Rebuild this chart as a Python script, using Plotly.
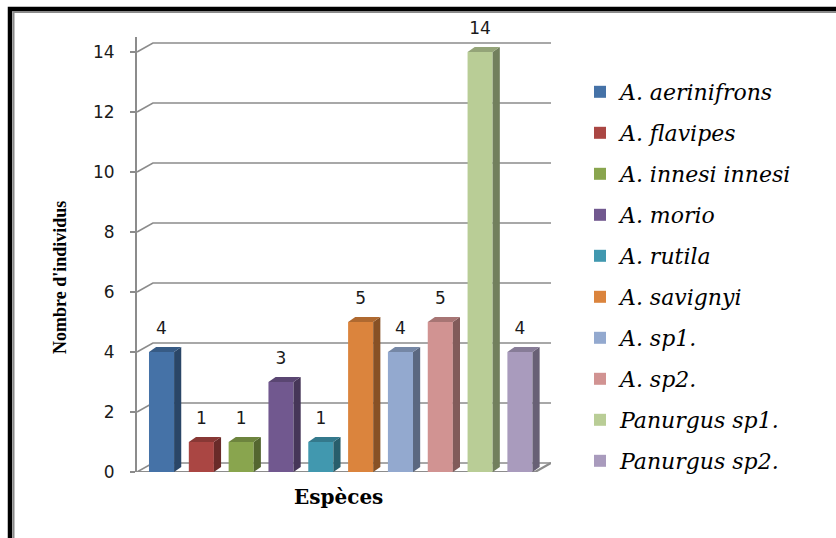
import plotly.graph_objects as go

# Species counts
species = ["A. aerinifrons", "A. flavipes", "A. innesi innesi", "A. morio", "A. rutila",
           "A. savignyi", "A. sp1.", "A. sp2.", "Panurgus sp1.", "Panurgus sp2."]
counts = [4, 1, 1, 3, 1, 5, 4, 5, 14, 4]
front_colors = ["#4572A7", "#AA4643", "#89A54E", "#71588F", "#4198AF",
                "#DB843D", "#93A9CF", "#D19392", "#B9CD96", "#A99BBD"]
y_ticks = [0, 2, 4, 6, 8, 10, 12, 14]


def shade(hex_color, k):
    h = hex_color.lstrip("#")
    r, g, b = (int(h[i:i + 2], 16) for i in (0, 2, 4))
    return "rgb({},{},{})".format(int(r * k), int(g * k), int(b * k))


# pseudo-3D geometry (data units)
bar_w = 0.63          # width of the front face
depth_dx, depth_dy = 0.18, 0.17   # bar depth
wall_dx, wall_dy = 0.40, 0.30     # offset of the back wall
x_lo, x_hi = -0.616, 9.38         # front edge of the floor
y_max = 14.5
label_lift = 0.45

# plot-area geometry in pixels, used to place paper-referenced items
W, H = 836, 538
m_l, m_r, m_t, m_b = 137, 285, 37, 66
plot_w, plot_h = W - m_l - m_r, H - m_t - m_b


def px(xp):
    return (xp - m_l) / plot_w


def py(yp):
    return (H - m_b - yp) / plot_h


fig = go.Figure()

xs = list(range(len(species)))
for i, (name, v, col) in enumerate(zip(species, counts, front_colors)):
    xl, xr = i - bar_w / 2, i + bar_w / 2
    # front face (legend entry)
    fig.add_trace(go.Bar(
        x=[i], y=[v], width=bar_w, name=name, marker_color=col,
        marker_line_width=0, legendgroup=name, hoverinfo="skip"))
    # right side face
    fig.add_trace(go.Scatter(
        x=[xr, xr + depth_dx, xr + depth_dx, xr, xr],
        y=[0, depth_dy, v + depth_dy, v, 0],
        fill="toself", fillcolor=shade(col, 0.62), mode="lines",
        line=dict(width=0, color=shade(col, 0.62)),
        showlegend=False, legendgroup=name, hoverinfo="skip"))
    # top face
    fig.add_trace(go.Scatter(
        x=[xl, xr, xr + depth_dx, xl + depth_dx, xl],
        y=[v, v, v + depth_dy, v + depth_dy, v],
        fill="toself", fillcolor=shade(col, 0.8), mode="lines",
        line=dict(width=0, color=shade(col, 0.8)),
        showlegend=False, legendgroup=name, hoverinfo="skip"))

# value labels
fig.add_trace(go.Scatter(
    x=xs, y=[v + label_lift for v in counts], mode="text",
    text=[str(v) for v in counts], textposition="top center",
    textfont=dict(family="DejaVu Sans", size=17, color="#1a1a1a"),
    cliponaxis=False, showlegend=False, hoverinfo="skip"))

grid_col = "#8C8C8C"
shapes = []
# back-wall gridlines with their perspective stubs
for t in y_ticks:
    shapes.append(dict(
        type="path", xref="x", yref="y", layer="below",
        path="M{},{} L{},{} L{},{}".format(x_lo, t, x_lo + wall_dx, t + wall_dy,
                                           x_hi + wall_dx, t + wall_dy),
        line=dict(color=grid_col, width=1.6)))
# floor front edge
shapes.append(dict(
    type="path", xref="x", yref="y", layer="below",
    path="M{},0 L{},0 L{},{}".format(x_lo, x_hi, x_hi + wall_dx, wall_dy),
    line=dict(color=grid_col, width=2.2)))

# outer frame
shapes.append(dict(type="rect", xref="paper", yref="paper",
                   x0=px(10), x1=px(860), y0=py(560), y1=py(9),
                   line=dict(color="black", width=4.5)))
shapes.append(dict(type="rect", xref="paper", yref="paper",
                   x0=px(13.5), x1=px(860), y0=py(560), y1=py(12),
                   line=dict(color="#8A8A8A", width=2)))

annotations = [
    dict(text="Nombre d'individus", xref="paper", yref="paper",
         x=px(60), y=py(278), textangle=-90,
         showarrow=False, xanchor="center", yanchor="middle",
         font=dict(family="Liberation Serif", size=18, color="black", weight="bold")),
    dict(text="Espèces", xref="paper", yref="paper",
         x=px(338), y=py(497),
         showarrow=False, xanchor="center", yanchor="middle",
         font=dict(family="DejaVu Serif", size=20, color="black", weight="bold")),
]

fig.update_layout(
    width=W, height=H,
    margin=dict(l=m_l, r=m_r, t=m_t, b=m_b),
    paper_bgcolor="white", plot_bgcolor="white",
    barmode="overlay",
    xaxis=dict(range=[x_lo, x_hi + wall_dx], showgrid=False, zeroline=False,
               showticklabels=False, ticks="", showline=False, fixedrange=True),
    yaxis=dict(range=[0, y_max], tickvals=y_ticks, showgrid=False, zeroline=False,
               showline=True, linecolor=grid_col, linewidth=2,
               ticks="outside", ticklen=5, tickwidth=2, tickcolor=grid_col,
               ticklabelstandoff=12,
               tickfont=dict(family="DejaVu Sans", size=17, color="#1a1a1a")),
    legend=dict(x=px(580), xanchor="left", y=py(71), yanchor="top",
                font=dict(family="DejaVu Serif", size=22, color="black", style="italic"),
                tracegroupgap=9.4, bgcolor="rgba(0,0,0,0)"),
    shapes=shapes, annotations=annotations,
    showlegend=True,
)

fig.write_html("out.html")
